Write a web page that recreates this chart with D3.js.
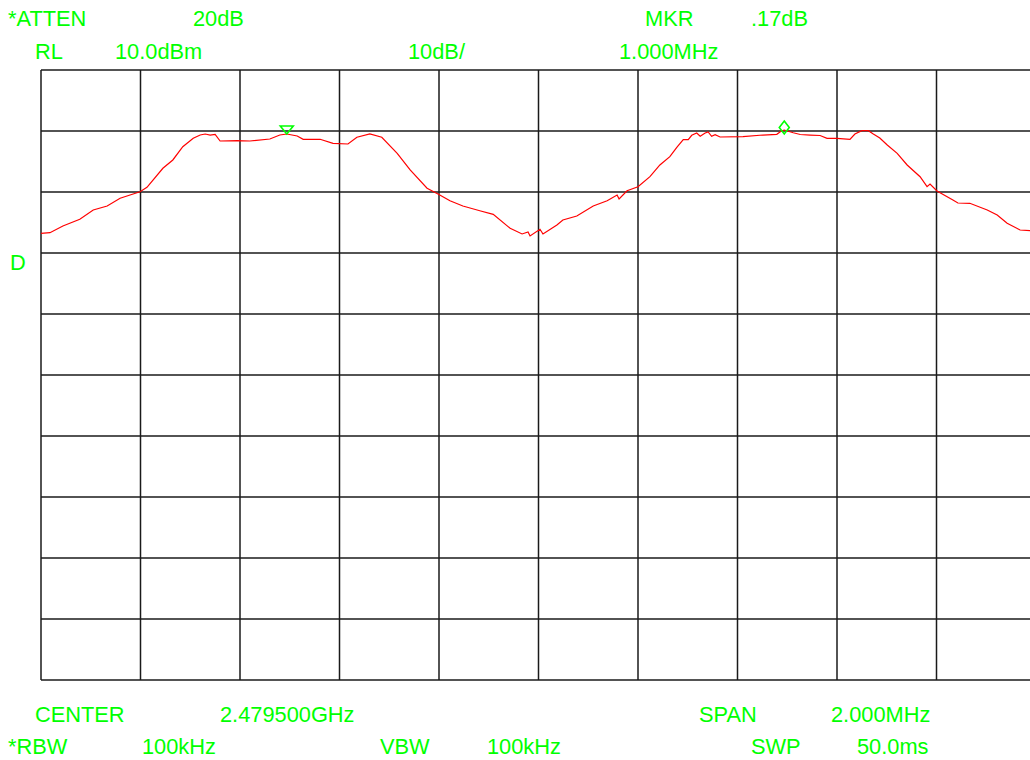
<!DOCTYPE html>
<html>
<head>
<meta charset="utf-8">
<script src="https://cdn.jsdelivr.net/npm/d3@7"></script>
<style>
  body { margin: 0; background: #fff; }
  svg { display: block; }
</style>
</head>
<body>
<script>
// spectrum analyser screen: center 2.4795 GHz, span 2 MHz, RL 10 dBm, 10 dB/div
const refLevel = 10;
const dbPerDiv = 10;
const divisions = 10;
const spanKHz = 2000;

// trace, frequency as offset from center (kHz) and level (dBm)
const freqOffset = [-1000, -982, -956, -922, -895, -867, -841, -801, -787, -755, -735, -715, -694, -680, -670, -660, -650, -640, -606, -580, -540, -520, -506, -485, -473, -439, -413, -383, -365, -339, -315, -284, -258, -224, -202, -178, -152, -118, -91, -57, -33, -21, -17, 3, 9, 37, 49, 77, 110, 138, 158, 162, 178, 200, 224, 244, 264, 278, 291, 301, 308, 318, 325, 335, 341, 348, 355, 365, 411, 451, 479, 488, 494, 512, 526, 546, 566, 580, 600, 626, 636, 650, 663, 673, 686, 701, 721, 741, 767, 781, 787, 801, 833, 843, 867, 902, 922, 942, 968, 988, 1000];
const level = [-16.77, -16.67, -15.57, -14.48, -12.95, -12.30, -11.03, -9.95, -9.23, -6.11, -4.75, -2.57, -1.20, -0.66, -0.49, -0.66, -0.57, -1.64, -1.59, -1.64, -1.31, -0.66, -0.49, -0.82, -1.36, -1.36, -2.02, -2.13, -1.03, -0.49, -1.03, -3.66, -6.39, -9.39, -10.33, -11.43, -12.30, -13.07, -13.66, -15.95, -16.88, -16.56, -17.21, -16.11, -16.88, -15.41, -14.59, -13.93, -12.30, -11.43, -10.49, -11.15, -9.79, -9.13, -7.49, -5.57, -4.21, -2.67, -1.43, -1.43, -0.70, -0.33, -0.87, -0.33, -0.16, -0.87, -0.61, -0.98, -0.93, -0.66, -0.54, 0.00, 0.16, -0.28, -0.57, -0.66, -0.74, -1.20, -1.20, -1.36, -0.49, 0.05, 0.05, -0.49, -1.15, -2.30, -3.66, -5.57, -7.49, -9.13, -8.69, -9.84, -11.31, -11.80, -11.85, -12.95, -13.77, -15.13, -16.23, -16.34, -16.39];

// markers
const markerFreq = [-506, 494];
const markerLevel = [-0.49, 0.16];
const markerShape = ["triangle", "diamond"];

// annotation texts
const topLabels = [
  ["*ATTEN", 8, 26], ["20dB", 193, 26], ["MKR", 645, 26], [".17dB", 751, 26],
  ["RL", 35, 59], ["10.0dBm", 115, 59], ["10dB/", 408, 59], ["1.000MHz", 619, 59],
  ["D", 10, 270]
];
const bottomLabels = [
  ["CENTER", 35, 722], ["2.479500GHz", 220, 722], ["SPAN", 699, 722], ["2.000MHz", 831, 722],
  ["*RBW", 8, 754], ["100kHz", 142, 754], ["VBW", 380, 754], ["100kHz", 487, 754],
  ["SWP", 751, 754], ["50.0ms", 857, 754]
];

const width = 1030, height = 760;
const gLeft = 41, gRight = 1036, gTop = 70, gBottom = 680;
const green = "#00ff00";

const svg = d3.select("body").append("svg")
  .attr("width", width)
  .attr("height", height)
  .style("background", "#fff");

const x = d3.scaleLinear().domain([-spanKHz / 2, spanKHz / 2]).range([gLeft, gRight]);
const y = d3.scaleLinear().domain([refLevel - dbPerDiv * divisions, refLevel]).range([gBottom, gTop]);

// graticule
const grid = svg.append("g").attr("stroke", "#1a1a1a").attr("stroke-width", 1.5);
grid.selectAll("line.v")
  .data(d3.range(divisions + 1).map(i => -spanKHz / 2 + i * spanKHz / divisions))
  .join("line")
    .attr("class", "v")
    .attr("x1", d => x(d)).attr("x2", d => x(d))
    .attr("y1", gTop).attr("y2", gBottom);
grid.selectAll("line.h")
  .data(d3.range(divisions + 1).map(i => refLevel - i * dbPerDiv))
  .join("line")
    .attr("class", "h")
    .attr("x1", gLeft).attr("x2", gRight)
    .attr("y1", d => y(d)).attr("y2", d => y(d));

// trace
const pts = freqOffset.map((f, i) => [f, level[i]]);
svg.append("path")
  .datum(pts)
  .attr("fill", "none")
  .attr("stroke", "#ff0000")
  .attr("stroke-width", 1.2)
  .attr("d", d3.line().x(d => x(d[0])).y(d => y(d[1])));

// markers
markerFreq.forEach((f, i) => {
  const mx = x(f), my = y(markerLevel[i]);
  let p;
  if (markerShape[i] === "triangle") {
    p = `M${mx - 6.5},${my - 8} L${mx + 6.5},${my - 8} L${mx},${my} Z`;
  } else {
    p = `M${mx},${my - 9} L${mx + 5},${my - 2.5} L${mx},${my + 4} L${mx - 5},${my - 2.5} Z`;
  }
  svg.append("path")
    .attr("d", p)
    .attr("fill", "none")
    .attr("stroke", green)
    .attr("stroke-width", 1.6);
});

// labels
svg.append("g")
  .attr("fill", green)
  .style("font", "21.8px 'Liberation Sans', Arial, sans-serif")
  .selectAll("text")
  .data(topLabels.concat(bottomLabels))
  .join("text")
    .attr("x", d => d[1])
    .attr("y", d => d[2])
    .text(d => d[0]);
</script>
</body>
</html>
